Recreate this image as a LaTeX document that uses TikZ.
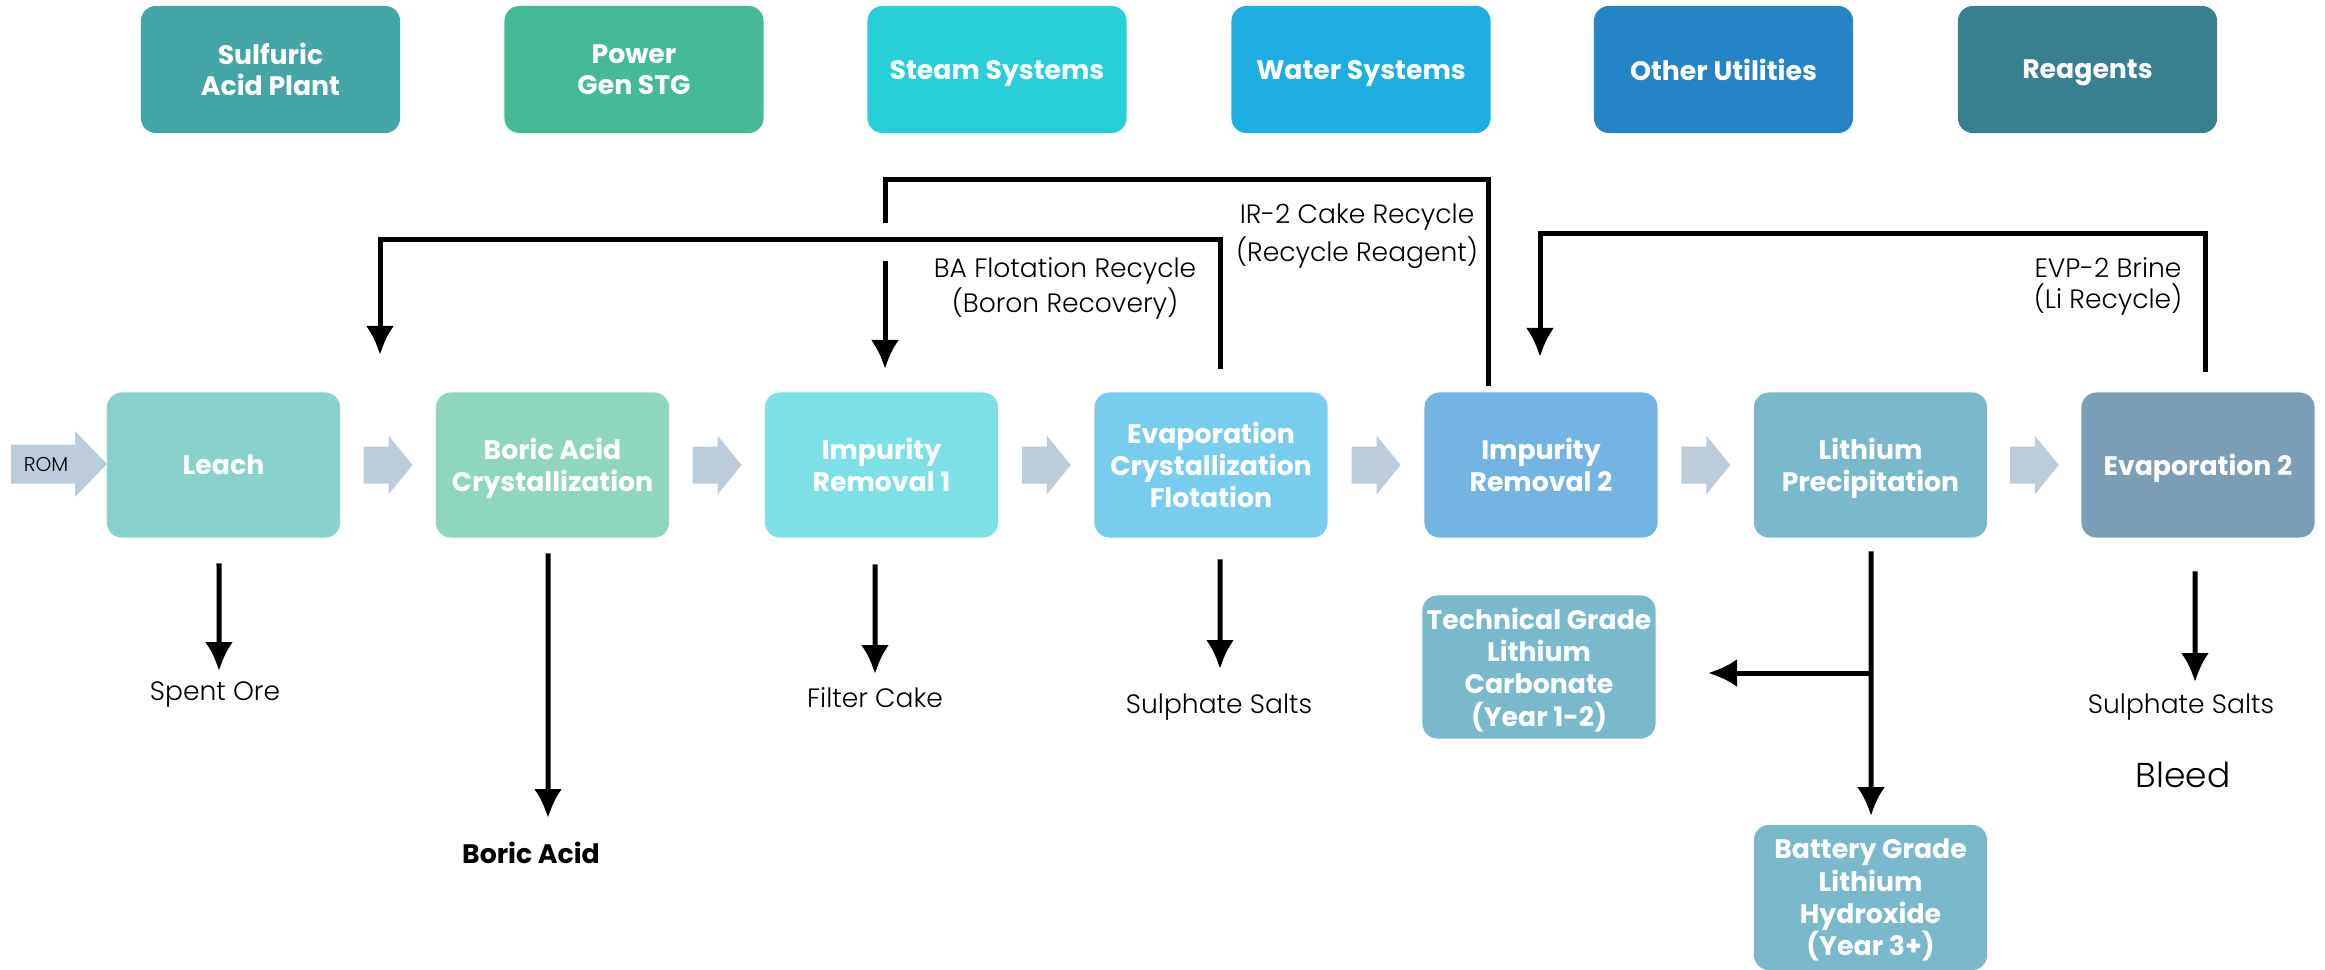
\documentclass[tikz,border=0pt]{standalone}
\usepackage{fontspec}
\setmainfont{Poppins}
\newfontfamily\lightfont{Poppins Light}
\usetikzlibrary{arrows.meta,calc}
\definecolor{topc1}{HTML}{43A5A5}
\definecolor{topc2}{HTML}{44BB96}
\definecolor{topc3}{HTML}{28CED8}
\definecolor{topc4}{HTML}{1FAEE4}
\definecolor{topc5}{HTML}{2584C6}
\definecolor{topc6}{HTML}{387F8F}
\definecolor{leachc}{HTML}{88D1CC}
\definecolor{boricc}{HTML}{8FD6C1}
\definecolor{irac}{HTML}{7DE0E6}
\definecolor{evapc}{HTML}{78CDEE}
\definecolor{irbc}{HTML}{74B4E3}
\definecolor{lipc}{HTML}{7AB9CB}
\definecolor{evapbc}{HTML}{7C9DB6}
\definecolor{flowgray}{HTML}{BCCCDB}
\begin{document}
\begin{tikzpicture}[x=0.01cm,y=-0.01cm,
  topbox/.style={rounded corners=0.15cm, minimum width=2.59cm, minimum height=1.27cm, inner sep=0pt, text=white, font=\fontsize{7.6}{8.9}\selectfont\bfseries, align=center},
  mainbox/.style={rounded corners=0.15cm, minimum width=2.33cm, minimum height=1.45cm, inner sep=0pt, text=white, font=\fontsize{7.6}{9.2}\selectfont\bfseries, align=center},
  conn/.style={line width=0.05cm, -{Latex[length=0.29cm,width=0.28cm]}},
  recline/.style={line width=0.05cm},
  lbl/.style={font=\fontsize{7.55}{10}\selectfont\lightfont, align=center, inner sep=0pt},
  flowarr/.pic={\fill[flowgray] (-24.5,-18.5) -- (0.5,-18.5) -- (0.5,-29.5) -- (24.5,0) -- (0.5,29.5) -- (0.5,18.5) -- (-24.5,18.5) -- cycle;}
]
\useasboundingbox (0,0) rectangle (2325,969);

% top utility boxes
\node[topbox, fill=topc1] (sap) at (270.5,69.5) {Sulfuric\\Acid Plant};
\node[topbox, fill=topc2] (pg) at (634,69.5) {Power\\Gen STG};
\node[topbox, fill=topc3, text depth=0pt] (ss) at (997,69.5) {Steam Systems};
\node[topbox, fill=topc4, text depth=0pt] (ws) at (1361,69.5) {Water Systems};
\node[topbox, fill=topc5, text depth=0pt] (ou) at (1723.5,69.5) {Other Utilities};
\node[topbox, fill=topc6, text depth=0pt] (rg) at (2087.5,69.5) {Reagents};

% main process boxes
\node[mainbox, fill=leachc, text depth=0pt] (leach) at (223.5,465) {Leach};
\node[mainbox, fill=boricc] (boric) at (552.5,465) {Boric Acid\\\smash{Crystallization}};
\node[mainbox, fill=irac] (ira) at (881.5,465) {Impurity\\Removal 1};
\node[mainbox, fill=evapc] (evap) at (1211,465) {Evaporation\\Crystallization\\Flotation};
\node[mainbox, fill=irbc] (irb) at (1541,465) {Impurity\\Removal 2};
\node[mainbox, fill=lipc] (lip) at (1870.5,465) {Lithium\\\smash{Precipitation}};
\node[mainbox, fill=evapbc, text depth=0pt] (evapb) at (2198,465) {Evaporation 2};

% product boxes
\node[mainbox, fill=lipc, minimum height=1.43cm] (tech) at (1539,667) {Technical Grade\\Lithium\\Carbonate\\\smash{(Year 1-2)}};
\node[mainbox, fill=lipc] (batt) at (1870.5,897.5) {Battery Grade\\Lithium\\Hydroxide\\\smash{(Year 3+)}};

% ROM feed arrow
\fill[flowgray] (11,444.5) -- (75,444.5) -- (75,431) -- (107,464) -- (75,497) -- (75,483.5) -- (11,483.5) -- cycle;
\node[font=\fontsize{5.7}{6}\selectfont\lightfont, inner sep=0pt] (rom) at (46,464) {ROM};

% flow arrows between boxes
\pic at ($(leach.east)!0.5!(boric.west)$) {flowarr};
\pic at ($(boric.east)!0.5!(ira.west)$) {flowarr};
\pic at ($(ira.east)!0.5!(evap.west)$) {flowarr};
\pic at ($(evap.east)!0.5!(irb.west)$) {flowarr};
\pic at ($(irb.east)!0.5!(lip.west)$) {flowarr};
\pic at ($(lip.east)!0.5!(evapb.west)$) {flowarr};

% output labels
\node[lbl] (spent) at (215,695) {Spent Ore};
\node[lbl, font=\fontsize{7.6}{10}\selectfont\bfseries] (bacid) at (531,853) {Boric Acid};
\node[lbl] (fcake) at (875,698) {Filter Cake};
\node[lbl] (salts1) at (1219,707) {Sulphate Salts};
\node[lbl] (salts2) at (2181,707) {Sulphate Salts};
\node[lbl, font=\fontsize{9.8}{12}\selectfont\lightfont] (bleed) at (2183,775) {Bleed};

% recycle labels
\node[lbl, font=\fontsize{7.55}{9.9}\selectfont\lightfont] (balbl) at (1065,288.5) {BA Flotation Recycle\\(Boron Recovery)};
\node[lbl, font=\fontsize{7.55}{10.9}\selectfont\lightfont] (irlbl) at (1357,236) {IR-2 Cake Recycle\\(Recycle Reagent)};
\node[lbl, font=\fontsize{7.55}{8.8}\selectfont\lightfont] (evlbl) at (2108,286.5) {EVP-2 Brine\\(Li Recycle)};

% tip coordinates
\coordinate (spentTip) at (219,671);
\coordinate (bacidTip) at (548,818);
\coordinate (fcakeTip) at (875,674);
\coordinate (salts1Tip) at (1220,669);
\coordinate (salts2Tip) at (2195,682);
\coordinate (lipBranch) at (1871,673);
\coordinate (techTip) at (1708,673);
\coordinate (battTip) at (1871,816);
\coordinate (baTip) at (380,355);
\coordinate (irGap) at (885,223);
\coordinate (irResume) at (885,261);
\coordinate (iraTip) at (885,369);
\coordinate (evTip) at (1540,357);

% output connectors
\draw[conn] ([xshift=-0.045cm,yshift=-0.25cm]leach.south) -- (spentTip);
\draw[conn] ([xshift=-0.045cm,yshift=-0.15cm]boric.south) -- (bacidTip);
\draw[conn] ([xshift=-0.065cm,yshift=-0.26cm]ira.south) -- (fcakeTip);
\draw[conn] ([xshift=0.09cm,yshift=-0.21cm]evap.south) -- (salts1Tip);
\draw[conn] ([xshift=-0.03cm,yshift=-0.33cm]evapb.south) -- (salts2Tip);
\draw[conn] ([xshift=0.005cm,yshift=-0.13cm]lip.south) -- (battTip);
\draw[conn] (lipBranch) -- (techTip);

% recycle connectors
\draw[conn] ([xshift=0.09cm,yshift=0.23cm]evap.north) -- ++(0,-129) -| (baTip);
\draw[recline] ([xshift=-0.52cm,yshift=0.06cm]irb.north) -- ++(0,-206) -| (irGap);
\draw[conn] (irResume) -- (iraTip);
\draw[conn] ([xshift=0.07cm,yshift=0.20cm]evapb.north) -- ++(0,-138) -| (evTip);
\end{tikzpicture}
\end{document}
